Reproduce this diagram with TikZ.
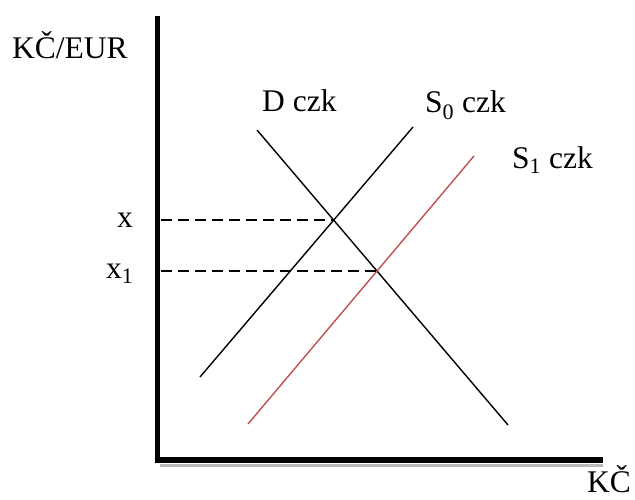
\documentclass[tikz,border=0pt]{standalone}
\usepackage{fontspec}
\setmainfont{Liberation Serif}
\usetikzlibrary{positioning,intersections}
\definecolor{supred}{RGB}{192,80,77}

\begin{document}
\begin{tikzpicture}[x=1pt,y=-1pt,
    axis/.style={line width=5pt},
    curve/.style={line width=1.4pt},
    guide/.style={line width=1.6pt, dash pattern=on 11pt off 6pt},
    lbl/.style={inner sep=0pt, anchor=base west, font=\fontsize{31.5}{38}\selectfont}]
    \useasboundingbox (0,0) rectangle (635,500);
    % axes
    \coordinate (ytop) at (157,16);
    \coordinate (ybot) at (157,463);
    \coordinate (xbeg) at (154.5,460);
    \coordinate (xend) at (603,460);
    \coordinate (yin) at (161,0);
    \draw[gray!55, line width=3pt] (160,465) -- (603,465);
    \draw[axis] (ytop) -- (ybot);
    \draw[axis, line width=6.5pt] (xbeg) -- (xend);
    % demand and supply
    \coordinate (d0) at (257,130);
    \coordinate (d1) at (508,425);
    \coordinate (s0a) at (200,377);
    \coordinate (s0b) at (413,127);
    \coordinate (s1a) at (248,424);
    \coordinate (s1b) at (474,156);
    \draw[curve, name path=D] (d0) -- (d1);
    \draw[curve, name path=S0] (s0a) -- (s0b);
    \draw[curve, supred, name path=S1] (s1a) -- (s1b);
    \path[name intersections={of=D and S0, by=e0}];
    \path[name intersections={of=D and S1, by=e1}];
    \draw[guide] (yin |- e0) -- (e0);
    \draw[guide] (yin |- e1) -- (e1);
    % labels
    \node[lbl] (ylab) at (12,59) {KČ/EUR};
    \node[lbl] (xlab) at (587,492) {KČ};
    \node[lbl] (dlab) at (262,112) {D czk};
    \node[lbl] (s0lab) at (425,113) {S\textsubscript{0} czk};
    \node[lbl] (s1lab) at (512,168) {S\textsubscript{1} czk};
    \node[lbl] (xp) at (117,227) {x};
    \node[lbl] (xp1) at (106,278) {x\textsubscript{1}};
\end{tikzpicture}
\end{document}
